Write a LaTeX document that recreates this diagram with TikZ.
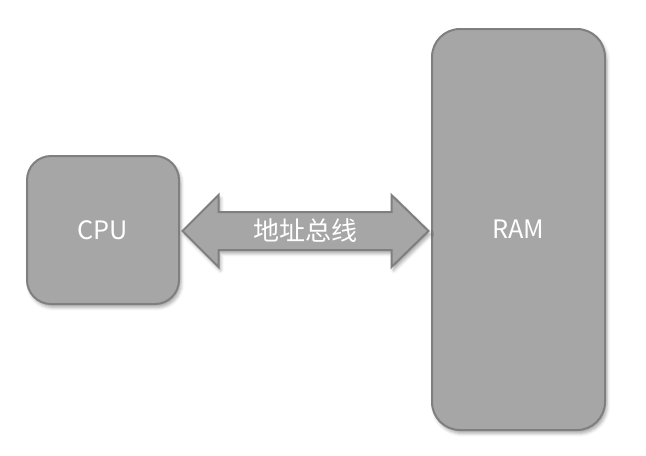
\documentclass[tikz,border=0pt]{standalone}
\usepackage{fontspec}
\usepackage{tikz}
\usetikzlibrary{calc, shadows.blur}
\setmainfont{Noto Sans CJK SC}
\definecolor{boxgray}{HTML}{A6A6A6}
\definecolor{linegray}{HTML}{7F7F7F}

\begin{document}
\begin{tikzpicture}[
    x=0.75pt, y=-0.75pt,
    box/.style={draw=linegray, fill=boxgray, line width=1.5pt, text=white,
        font=\fontsize{19}{23}\selectfont, inner sep=0pt,
        blur shadow={shadow xshift=1.5pt, shadow yshift=-2.5pt, shadow blur radius=2.5pt, shadow opacity=35}},
    bus/.style={draw=linegray, fill=boxgray, line width=1.5pt, line join=miter,
        blur shadow={shadow xshift=1.5pt, shadow yshift=-2.5pt, shadow blur radius=2.5pt, shadow opacity=35}},
    buslabel/.style={text=white, font=\fontsize{19.5}{23}\selectfont, inner sep=0pt}
]
    \useasboundingbox (0,0) rectangle (646,455);

    \node[box, minimum width=114pt, minimum height=111pt, rounded corners=18pt] (cpu) at (103,230) {CPU};
    \node[box, minimum width=129.75pt, minimum height=300.75pt, rounded corners=21pt] (ram) at (518.5,229.5) {RAM};

    % address bus
    \coordinate (busL) at ($(cpu.east)+(2.5,1)$);
    \coordinate (busR) at ($(busL -| ram.west)+(-2.5,0)$);
    \draw[bus] (busL) -- ($(busL)+(36,-36)$) -- ($(busL)+(36,-19)$)
        -- ($(busR)+(-37,-19)$) -- ($(busR)+(-37,-36)$) -- (busR)
        -- ($(busR)+(-37,36)$) -- ($(busR)+(-37,19)$)
        -- ($(busL)+(36,19)$) -- ($(busL)+(36,36)$) -- cycle;
    \node[buslabel] (busname) at ($(busL)!0.5!(busR)$) {地址总线};
\end{tikzpicture}
\end{document}
